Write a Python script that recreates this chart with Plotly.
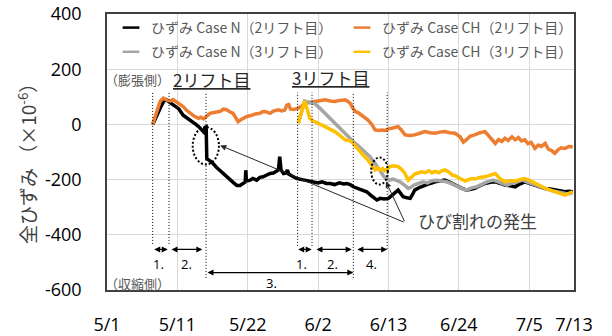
import plotly.graph_objects as go

# ---- axis ticks ----
x_tick_days = [0, 11, 22, 33, 44, 55, 66, 73]
x_tick_text = ["5/1", "5/11", "5/22", "6/2", "6/13", "6/24", "7/5", "7/13"]
y_tick_vals = [-600, -400, -200, 0, 200, 400]
y_tick_text = ["-600", "-400", "-200", "0", "200", "400"]

# ---- series (days since 5/1, strain x10^-6) ----
n2_day = [7.14, 7.8, 8.4, 8.9, 9.3, 9.8, 10.4, 11.2, 11.9, 12.5, 13.0, 13.5, 14.0, 14.5, 14.8, 15.1, 15.4, 15.5,
          15.6, 16.0, 16.4, 17.1, 17.6, 18.2, 18.7, 19.2, 19.8, 20.3, 20.8, 21.2, 21.6, 21.7, 21.8, 22.3, 22.8,
          23.4, 23.9, 24.4, 25.0, 25.5, 26.0, 26.4, 26.8, 27.0, 27.2, 27.6, 28.0, 28.2, 28.4, 29.0, 29.7, 30.5,
          31.3, 32.3, 33.0, 33.6, 34.3, 34.9, 35.6, 36.3, 37.0, 37.5, 38.0, 38.5, 39.2, 39.9, 40.6, 41.2, 41.7,
          42.2, 42.7, 43.3, 44.0, 44.5, 45.0, 45.5, 45.9, 46.3, 46.9, 47.4, 47.8, 48.1, 48.9, 49.7, 50.5, 51.3,
          52.0, 52.8, 53.6, 54.4, 55.3, 56.2, 56.9, 57.5, 58.3, 59.1, 59.9, 60.7, 61.5, 62.2, 63.0, 63.8, 64.5,
          65.3, 66.1, 66.9, 67.7, 68.5, 69.3, 70.0, 70.8, 71.6, 72.2, 72.8]
n2_val = [0, 35, 63, 85, 89, 80, 69, 57, 33, 24, 15, 6, -2, -12, -20, -27, -10, -9,
          -124, -130, -137, -155, -166, -179, -190, -203, -212, -221, -221, -215, -209, -166, -205, -203, -196,
          -202, -192, -190, -183, -178, -176, -170, -165, -117, -165, -178, -176, -165, -180, -188, -196, -200,
          -204, -208, -212, -208, -214, -214, -218, -212, -216, -214, -218, -226, -232, -238, -244, -256, -264,
          -274, -268, -270, -268, -258, -244, -238, -250, -262, -266, -268, -252, -238, -228, -220, -214, -208,
          -204, -202, -210, -220, -230, -238, -234, -232, -222, -214, -210, -208, -214, -220, -222, -226, -216,
          -208, -214, -220, -226, -232, -234, -238, -240, -244, -242, -244]

ch2_day = [7.14, 7.8, 8.3, 8.8, 9.3, 9.8, 10.3, 10.9, 11.4, 11.9, 12.4, 13.0, 13.6, 14.3, 14.7, 15.1, 15.6, 16.1,
           16.9, 17.7, 18.2, 18.7, 19.2, 19.7, 20.1, 20.5, 21.0, 21.8, 22.5, 23.2, 23.9, 24.3, 24.7, 25.1, 25.5,
           26.0, 26.8, 27.3, 27.8, 28.1, 28.4, 28.7, 29.2, 29.9, 30.4, 30.9, 31.7, 32.5, 33.3, 34.1, 34.9, 35.6,
           36.4, 37.2, 37.6, 38.0, 38.4, 38.8, 39.3, 39.8, 40.3, 40.8, 41.4, 41.9, 42.5, 43.0, 43.5, 44.0, 44.5,
           45.0, 45.5, 46.0, 46.6, 47.3, 48.1, 48.9, 49.7, 50.5, 51.3, 52.0, 52.8, 53.6, 54.4, 55.2, 55.7, 56.2,
           56.8, 57.5, 58.3, 59.1, 59.6, 60.1, 60.7, 61.2, 61.7, 62.2, 62.7, 63.3, 63.8, 64.3, 64.8, 65.3, 65.8,
           66.3, 66.9, 67.4, 67.9, 68.5, 69.0, 69.5, 70.0, 70.5, 71.0, 71.6, 72.2, 72.8]
ch2_val = [0, 45, 83, 95, 88, 84, 90, 82, 75, 65, 52, 40, 30, 22, 26, 20, 32, 40,
           44, 47, 55, 53, 46, 40, 25, 10, 18, 28, 32, 38, 40, 46, 47, 42, 40,
           48, 53, 49, 52, 70, 72, 55, 54, 59, 66, 77, 80, 83, 86, 89, 85, 83,
           87, 89, 84, 77, 60, 47, 42, 34, 26, 16, 0, -20, -22, -20, -22, -16, -14,
           -10, -8, -20, -38, -40, -38, -32, -26, -30, -32, -28, -26, -30, -32, -45, -64, -55,
           -42, -38, -30, -26, -40, -50, -69, -55, -62, -50, -58, -45, -56, -48, -60, -56, -70,
           -65, -87, -75, -80, -69, -90, -95, -105, -92, -85, -87, -80, -81]

n3_day = [29.9, 30.6, 30.9, 31.5, 32.5, 33.3, 34.1, 34.9, 35.6, 36.4, 37.2, 38.0, 38.8, 39.5, 40.3, 41.1, 41.9,
          42.4, 42.9, 43.3, 43.7, 44.2, 44.7, 45.2, 45.8, 46.5, 47.1, 47.5, 48.0, 48.7, 49.4, 50.1, 50.8, 51.5,
          52.3, 53.1, 54.0, 54.6, 55.4, 56.2, 57.0, 57.8, 58.6, 59.4, 60.4, 61.4, 62.5, 63.3, 64.1, 65.0, 65.8,
          66.7, 67.7, 68.5, 69.5, 70.3, 71.2, 72.0, 72.8]
n3_val = [4, 60, 85, 80, 75, 58, 39, 20, 4, -14, -32, -50, -69, -82, -99, -117, -141,
          -160, -178, -190, -196, -202, -198, -204, -208, -220, -232, -228, -220, -214, -208, -212, -204, -202,
          -206, -208, -216, -224, -232, -238, -230, -226, -216, -208, -202, -212, -220, -214, -208, -202, -210,
          -218, -226, -232, -240, -244, -248, -252, -248]

ch3_day = [29.9, 30.6, 30.9, 31.3, 31.7, 32.1, 32.5, 33.3, 34.1, 34.9, 35.6, 36.4, 37.2, 37.7, 38.2, 38.8, 39.3,
           40.0, 40.8, 41.4, 41.9, 42.3, 42.7, 43.1, 43.4, 43.8, 44.2, 44.8, 45.5, 46.0, 46.5, 47.1, 47.6, 48.1,
           48.6, 49.2, 49.7, 50.3, 50.8, 51.3, 51.9, 52.3, 52.8, 53.4, 54.0, 54.4, 55.2, 56.0, 56.5, 57.0, 57.5,
           58.2, 59.1, 59.8, 60.4, 60.7, 61.4, 62.2, 62.9, 63.8, 64.5, 65.3, 66.1, 66.9, 67.7, 68.5, 69.3, 70.0,
           70.8, 71.6, 72.2, 72.8]
ch3_val = [4, 60, 85, 55, 22, 14, 10, 2, -8, -18, -26, -40, -56, -58, -62, -78, -93,
           -110, -129, -150, -165, -158, -165, -160, -168, -162, -153, -150, -153, -162, -175, -202, -190, -180,
           -176, -172, -175, -168, -175, -170, -175, -168, -165, -172, -184, -186, -196, -205, -200, -196, -198,
           -192, -190, -184, -180, -178, -196, -208, -204, -205, -200, -196, -204, -214, -224, -232, -238, -244,
           -250, -256, -250, -244]

series_names = ["ひずみ Case N（2リフト目）", "ひずみ Case CH（2リフト目）",
                "ひずみ Case N（3リフト目）", "ひずみ Case CH（3リフト目）"]
series_colors = ["#000000", "#ED7D31", "#A5A5A5", "#FFC000"]

# ---- construction event markers ----
event_day = [7.14, 9.69, 15.48, 29.8, 32.05, 38.5, 43.8]
event_bottom = [-433, -433, -556, -440, -440, -556, -451]
event_top = 116

# phase spans
phase_start = [7.14, 9.85, 29.65, 32.5, 38.9, 15.48]
phase_end = [9.5, 14.9, 32.0, 38.25, 43.8, 38.5]
phase_level = [-453, -453, -453, -453, -453, -537]
phase_label = ["1.", "2.", "1.", "2.", "4.", "3."]
phase_label_day = [8.0, 12.35, 30.4, 35.2, 41.4, 25.7]
phase_label_level = [-506, -506, -506, -506, -506, -573]

FONT_NUM = "Open Sans, Noto Sans CJK JP"
FONT_JP = "Noto Sans CJK JP"

fig = go.Figure()

data = [(n2_day, n2_val), (ch2_day, ch2_val), (n3_day, n3_val), (ch3_day, ch3_val)]
for (d, v), name, col in zip(data, series_names, series_colors):
    fig.add_trace(go.Scatter(x=d, y=v, mode="lines", name=name, showlegend=False,
                             line=dict(color=col, width=3.5)))

# legend entries (short line symbols), two columns
legend_of = ["legend", "legend2", "legend", "legend2"]
order = [0, 2, 1, 3]
for i in order:
    fig.add_trace(go.Scatter(x=[None], y=[None], mode="markers", name=series_names[i],
                             legend=legend_of[i], legendgroup=f"g{i}",
                             marker=dict(symbol="line-ew", size=12,
                                         line=dict(color=series_colors[i], width=2.5))))

# dotted event lines
for d, b in zip(event_day, event_bottom):
    fig.add_shape(type="line", x0=d, x1=d, y0=b, y1=event_top, xref="x", yref="y",
                  line=dict(color="#000000", width=1, dash="1px,2px"))

# phase double arrows + labels
for s, e, lv, lab, ld, ll in zip(phase_start, phase_end, phase_level, phase_label,
                                 phase_label_day, phase_label_level):
    fig.add_annotation(x=e, y=lv, ax=s, ay=lv, xref="x", yref="y", axref="x", ayref="y",
                       text="", showarrow=True, arrowside="end+start", arrowhead=2,
                       startarrowhead=2, arrowsize=1, startarrowsize=1, arrowwidth=1.2,
                       arrowcolor="#000000", standoff=0, startstandoff=0)
    fig.add_annotation(x=ld, y=ll, xref="x", yref="y", text=lab, showarrow=False,
                       xanchor="center", yanchor="middle",
                       font=dict(family=FONT_NUM, size=13, color="#000000"))

# crack ellipses
fig.add_shape(type="circle", x0=13.4, x1=17.5, y0=-145, y1=-10, xref="x", yref="y",
              line=dict(color="#000000", width=2, dash="2px,2px"))
fig.add_shape(type="circle", x0=41.3, x1=43.9, y0=-218, y1=-120, xref="x", yref="y",
              line=dict(color="#000000", width=2, dash="2px,2px"))

# crack callout arrows
for tx, ty in [(17.7, -76), (43.6, -207)]:
    fig.add_annotation(x=tx, y=ty, ax=46.6, ay=-356, xref="x", yref="y", axref="x", ayref="y",
                       text="", showarrow=True, arrowhead=2, arrowsize=1.2, arrowwidth=1,
                       arrowcolor="#262626", standoff=0)
fig.add_annotation(x=(416 - 107) / 6.397, y=(124 - 220) / 0.276, xref="x", yref="y",
                   text="ひび割れの発生", showarrow=False, xanchor="left", yanchor="middle",
                   font=dict(family=FONT_JP, size=17, color="#404040"))

# side notes
fig.add_annotation(x=0.0, y=(290 - 79) / 276, xref="paper", yref="paper", text="（膨張側）",
                   showarrow=False, xanchor="left", yanchor="middle", xshift=-4,
                   font=dict(family=FONT_JP, size=13, color="#595959"))
fig.add_annotation(x=0.0, y=(290 - 283) / 276, xref="paper", yref="paper", text="（収縮側）",
                   showarrow=False, xanchor="left", yanchor="middle", xshift=-4,
                   font=dict(family=FONT_JP, size=13, color="#595959"))
fig.add_annotation(x=(171 - 107) / 467, y=(290 - 79) / 276, xref="paper", yref="paper",
                   text="<u>2リフト目</u>", showarrow=False, xanchor="left", yanchor="middle",
                   font=dict(family=FONT_JP, size=17, color="#262626"))
fig.add_annotation(x=(290 - 107) / 467, y=(290 - 77) / 276, xref="paper", yref="paper",
                   text="<u>3リフト目</u>", showarrow=False, xanchor="left", yanchor="middle",
                   font=dict(family=FONT_JP, size=17, color="#262626"))

# y axis title
fig.add_annotation(x=(27 - 107) / 467, y=(290 - 159) / 276, xref="paper", yref="paper",
                   text="全ひずみ （×10<sup>-6</sup>）", textangle=-90, showarrow=False,
                   xanchor="center", yanchor="middle",
                   font=dict(family=FONT_JP, size=19, color="#404040"))

leg_common = dict(yanchor="top", xanchor="left", bgcolor="rgba(0,0,0,0)", tracegroupgap=3,
                  itemwidth=30, font=dict(family=FONT_JP, size=14, color="#595959"),
                  orientation="v")
fig.update_layout(
    width=612, height=336,
    margin=dict(l=107, r=38, t=14, b=46, autoexpand=False),
    paper_bgcolor="white", plot_bgcolor="white",
    font=dict(family=FONT_NUM),
    legend=dict(x=(111 - 107) / 467, y=1 + 2 / 276, **leg_common),
    legend2=dict(x=(342 - 107) / 467, y=1 + 2 / 276, **leg_common),
    xaxis=dict(range=[0, 73], tickmode="array", tickvals=x_tick_days, ticktext=x_tick_text,
               automargin=False,
               showgrid=True, gridcolor="#d9d9d9", gridwidth=1, zeroline=False,
               showline=True, mirror=True, linecolor="#404040", linewidth=1.5,
               ticks="outside", ticklen=18, tickcolor="rgba(0,0,0,0)",
               tickfont=dict(family=FONT_NUM, size=18, color="#000000")),
    yaxis=dict(range=[-600, 400], tickmode="array", tickvals=y_tick_vals, ticktext=y_tick_text,
               automargin=False,
               showgrid=True, gridcolor="#d9d9d9", gridwidth=1, zeroline=False,
               showline=True, mirror=True, linecolor="#404040", linewidth=1.5,
               ticks="outside", ticklen=20, tickcolor="rgba(0,0,0,0)",
               tickfont=dict(family=FONT_NUM, size=18, color="#000000")),
)

fig.write_html("out.html", config={"displayModeBar": False},
               post_script="document.body.style.margin='0';")
